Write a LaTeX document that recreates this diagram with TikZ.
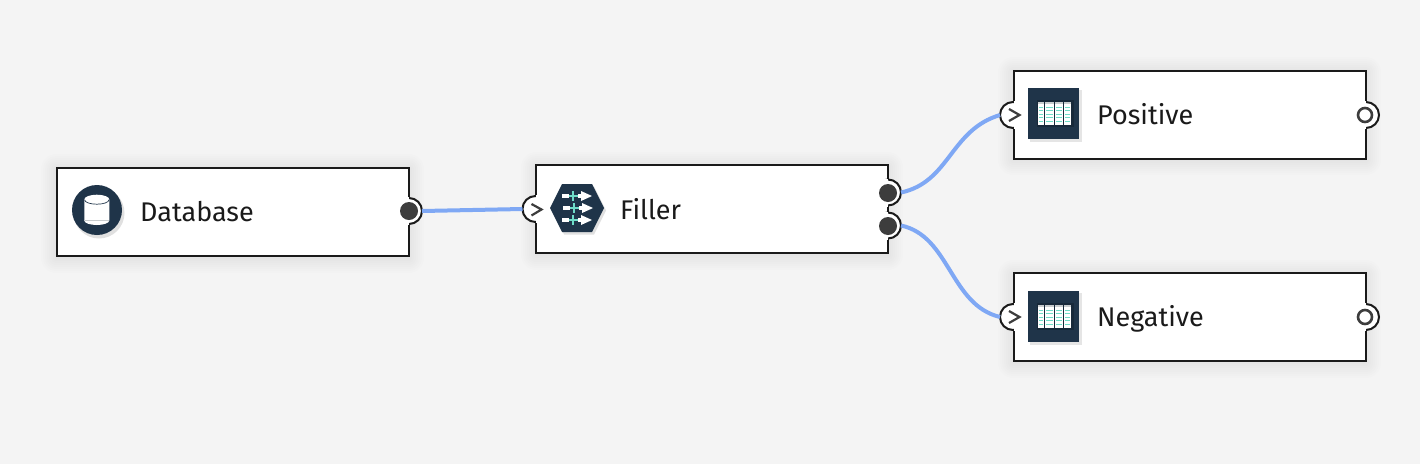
\documentclass[tikz,border=0pt]{standalone}
\usepackage{fontspec}
\setmainfont{Fira Sans}
\usetikzlibrary{arrows.meta}
\definecolor{bgc}{HTML}{F4F4F4}
\definecolor{edgec}{HTML}{1A1A1A}
\definecolor{linkc}{HTML}{7FA8F4}
\definecolor{iconc}{HTML}{1F3449}
\definecolor{iconin}{HTML}{18293A}
\definecolor{tealc}{HTML}{6FDCC8}
\definecolor{dotc}{HTML}{3D3D3D}
\definecolor{greyc}{HTML}{C8CCCE}
\newcommand{\softshadow}[4]{%
  \foreach \e in {1,3,...,15}{%
    \fill[black,opacity=.009,rounded corners=\e pt] (#1-\e,#2-\e+2) rectangle (#3+\e,#4+\e+2);}}
\tikzset{
  x=1pt,y=-1pt,
  box/.style={draw=edgec,fill=white,line width=2pt,minimum width=#1,minimum height=88pt,inner sep=0pt,outer sep=0pt},
  box/.default=352pt,
  label/.style={anchor=base west,inner sep=0pt,text=edgec,font=\fontsize{27}{30}\selectfont},
  link/.style={draw=linkc,line width=4pt},
  bump/.style={circle,draw=edgec,fill=white,line width=2pt,minimum size=26pt,inner sep=0pt,outer sep=0pt},
  outdot/.style={circle,fill=dotc,minimum size=18pt,inner sep=0pt,outer sep=0pt},
  ring/.style={circle,draw=dotc,fill=white,line width=2.6pt,minimum size=14pt,inner sep=0pt,outer sep=0pt},
  chev/.style={draw=dotc,line width=2.2pt,line join=miter},
  tableicon/.pic={
    \fill[black,opacity=.10] (-24,-24) rectangle (28,28);
    \fill[iconc] (-25.5,-25.5) rectangle (25.5,25.5);
    \fill[iconin] (-17,-14) rectangle (20,13);
    \foreach \a/\b in {-15.5/-10,-9/0,1/9.8,10.6/17.6}{
      \fill[white] (\a,-12) rectangle (\b,11);
      \fill[greyc] (\a,-12) rectangle (\b,-9.5);
      \foreach \r in {-7,-3.5,0,3.5,7}{
        \fill[tealc] (\a+1,\r) rectangle (\b-1,\r+1.2);}
    }
  },
  flowrow/.pic={
    \fill[white] (-15,-2) rectangle (-8,2);
    \fill[tealc] (-8,-1.3) rectangle (0.5,1.3);
    \fill[tealc] (-5.3,-5) rectangle (-2.7,5);
    \fill[white] (0.5,-2) rectangle (5,2);
    \fill[white] (4,-5) -- (15,0) -- (4,5) -- cycle;
  }
}
\begin{document}
\begin{tikzpicture}
\useasboundingbox (0,0) rectangle (1420,464);
\fill[bgc] (0,0) rectangle (1420,464);
% shadows
\softshadow{56}{167}{409}{256}
\softshadow{536}{165}{888}{253}
\softshadow{1013}{70}{1366}{158}
\softshadow{1013}{273}{1366}{361}
% boxes
\node[box=352pt,minimum height=88pt] (db) at (232.5,211.5) {};
\node[box] (fl) at (712,209) {};
\node[box=352pt] (pos) at (1189.5,114.5) {};
\node[box=352pt] (neg) at (1189.5,317) {};
% ports: bumps
\node[bump] (dbb) at (409,211) {};
\node[bump] (flin) at (535.5,209) {};
\node[bump] (flb1) at (888,192.5) {};
\node[bump] (flb2) at (888,225.5) {};
\node[bump] (posin) at (1013,115) {};
\node[bump] (negin) at (1013,317) {};
\node[bump] (posb) at (1366,115) {};
\node[bump] (negb) at (1366,317) {};
% connectors
\draw[link] (dbb.east) -- (flin.west);
\draw[link] (flb1.east) .. controls (950,182) and (950,130) .. (posin.west);
\draw[link] (flb2.east) .. controls (950,236) and (950,305) .. (negin.west);
% cover the inner half of the bumps
\fill[white] (394,197) rectangle (408.5,225);
\fill[white] (536,195) rectangle (551,223);
\fill[white] (873,178.5) rectangle (887.5,206.5);
\fill[white] (873,211.5) rectangle (887.5,239.5);
\fill[white] (1013.5,101) rectangle (1028,129);
\fill[white] (1013.5,303) rectangle (1028,331);
\fill[white] (1351,101) rectangle (1365.5,129);
\fill[white] (1351,303) rectangle (1365.5,331);
% port marks
\node[outdot] (dbo) at (409,211) {};
\node[outdot] (flo1) at (888,193) {};
\node[outdot] (flo2) at (888,226) {};
\node[ring] (poso) at (1365,115) {};
\node[ring] (nego) at (1365,317) {};
\draw[chev] (531.5,204) -- (541.5,209.5) -- (531.5,215.5);
\draw[chev] (1009,109) -- (1019.5,115) -- (1009,121);
\draw[chev] (1009,311) -- (1019.5,317) -- (1009,323);
% database icon
\fill[black,opacity=.12] (99,213) circle (25.5);
\fill[iconc] (97,210) circle (25);
\fill[white] (84.3,200) -- (84.3,220.5) arc[x radius=12.5,y radius=4.5,start angle=180,end angle=0] -- (109.3,200) -- cycle;
\fill[white] (96.8,199.5) ellipse [x radius=12.5,y radius=4.8];
\draw[iconc,line width=.7pt] (84.6,199.8) arc[x radius=12.2,y radius=4.4,start angle=180,end angle=0];
\draw[greyc,line width=.6pt] (84.3,220) -- (109.3,220);
% filler icon
\fill[black,opacity=.12] (552,210.5) -- (564,186.5) -- (594,186.5) -- (606,210.5) -- (594,234.5) -- (564,234.5) -- cycle;
\fill[iconc] (550,208) -- (562,184) -- (592,184) -- (604,208) -- (592,232) -- (562,232) -- cycle;
\pic at (577,196) {flowrow};
\pic at (578,208) {flowrow};
\pic at (577,220) {flowrow};
% table icons
\pic at (1053.5,113.5) {tableicon};
\pic at (1053.5,316.5) {tableicon};
% labels
\node[label] (t1) at (140,221) {Database};
\node[label] (t2) at (620,219) {Filler};
\node[label] (t3) at (1097,124) {Positive};
\node[label] (t4) at (1097,326) {Negative};
\end{tikzpicture}
\end{document}
